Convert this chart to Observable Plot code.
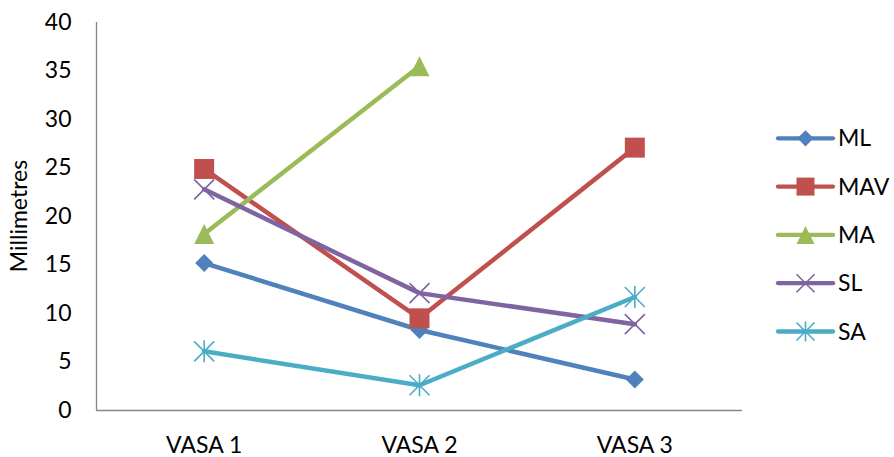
<!DOCTYPE html>
<html>
<head>
<meta charset="utf-8">
<script src="https://cdn.jsdelivr.net/npm/d3@7"></script>
<script src="https://cdn.jsdelivr.net/npm/@observablehq/plot@0.6"></script>
<style>
  html, body { margin: 0; padding: 0; background: #fff; overflow: hidden; }
  #chart svg { display: block; max-width: none !important; }
</style>
</head>
<body>
<div id="chart"></div>
<script>
// ---- data ----
const categories = ["VASA 1", "VASA 2", "VASA 3"];
const seriesNames = ["ML", "MAV", "MA", "SL", "SA"];
const ML  = [15.2, 8.3, 3.2];
const MAV = [24.9, 9.5, 27.1];
const MA  = [18.2, 35.5, null];
const SL  = [22.8, 12.1, 8.9];
const SA  = [6.1, 2.6, 11.7];
const yTicks = [0, 5, 10, 15, 20, 25, 30, 35, 40];
const yLabel = "Millimetres";

// ---- styles ----
const FONT = "Lato, 'Noto Sans', sans-serif";
const colors = ["#4F81BD", "#C0504D", "#9BBB59", "#8064A2", "#4BACC6"];
const rad = s => Math.sqrt(s / Math.PI);
const symDiamond = {draw(c, s) { const r = rad(s); c.moveTo(0, -r); c.lineTo(r, 0); c.lineTo(0, r); c.lineTo(-r, 0); c.closePath(); }};
const symSquare = {draw(c, s) { const r = rad(s); c.moveTo(-r, -r); c.lineTo(r, -r); c.lineTo(r, r); c.lineTo(-r, r); c.closePath(); }};
const symTriangle = {draw(c, s) { const r = rad(s); c.moveTo(0, -r); c.lineTo(r, r); c.lineTo(-r, r); c.closePath(); }};
const symTimes = {draw(c, s) { const r = rad(s); c.moveTo(-r, -r); c.lineTo(r, r); c.moveTo(r, -r); c.lineTo(-r, r); }};
const symStar = {draw(c, s) { const r = rad(s); c.moveTo(-r, -r); c.lineTo(r, r); c.moveTo(r, -r); c.lineTo(-r, r); c.moveTo(0, -r * 1.1); c.lineTo(0, r * 1.1); }};
const seriesStyle = [
  {sym: symDiamond, r: 9, fill: true},
  {sym: symSquare, r: 10, fill: true},
  {sym: symTriangle, r: 10, fill: true},
  {sym: symTimes, r: 10, fill: false},
  {sym: symStar, r: 10, fill: false}
];

const seriesValues = [ML, MAV, MA, SL, SA];
const series = seriesNames.map((name, k) => ({
  name,
  color: colors[k],
  style: seriesStyle[k],
  data: seriesValues[k].map((v, i) => ({i, v})).filter(d => d.v != null)
}));

const seriesMarks = series.flatMap(s => [
  Plot.line(s.data, {x: "i", y: "v", stroke: s.color, strokeWidth: 4.5, strokeLinecap: "round", strokeLinejoin: "round"}),
  Plot.dot(s.data, {
    x: "i", y: "v", symbol: s.style.sym, r: s.style.r,
    fill: s.style.fill ? s.color : "none",
    stroke: s.color, strokeWidth: s.style.fill ? 0 : 1.6
  })
]);

const plot = Plot.plot({
  width: 894,
  height: 457,
  marginLeft: 96,
  marginRight: 152,
  marginTop: 22,
  marginBottom: 47,
  style: {fontFamily: FONT, fontSize: "23px", color: "#000", background: "#fff", overflow: "visible"},
  x: {type: "linear", domain: [-0.5, categories.length - 0.5]},
  y: {domain: [0, 40]},
  marks: [
    Plot.ruleY([0], {stroke: "#868686", strokeWidth: 1.3}),
    Plot.ruleX([-0.5], {stroke: "#868686", strokeWidth: 1.3}),
    Plot.axisY({ticks: yTicks, tickSize: 0, tickPadding: 25, label: null}),
    Plot.axisX({ticks: categories.map((c, i) => i), tickFormat: i => categories[i], tickSize: 0, tickPadding: 26, label: null}),
    ...seriesMarks
  ]
});

const svg = d3.select(plot);

// ---- y axis title ----
svg.append("text")
  .attr("transform", `translate(19,${(22 + 457 - 47) / 2}) rotate(-90)`)
  .attr("text-anchor", "middle").attr("dy", "0.35em")
  .attr("font-family", FONT).attr("font-size", 23).attr("fill", "#000")
  .text(yLabel);

// ---- legend (drawn to the right of the plot area) ----
const lg = svg.append("g").attr("font-family", FONT).attr("font-size", 23).attr("text-anchor", "start");
series.forEach((s, k) => {
  const y = 138.3 + k * 48.3;
  lg.append("line").attr("x1", 778).attr("x2", 833).attr("y1", y).attr("y2", y)
    .attr("stroke", s.color).attr("stroke-width", 4.3).attr("stroke-linecap", "round");
  const p = d3.path();
  const r = s.style.r * 0.9;
  s.style.sym.draw(p, Math.PI * r * r);
  lg.append("path").attr("d", p.toString()).attr("transform", `translate(805.5,${y})`)
    .attr("fill", s.style.fill ? s.color : "none").attr("stroke", s.color)
    .attr("stroke-width", s.style.fill ? 0 : 1.6);
  lg.append("text").attr("x", 838).attr("y", y).attr("dy", "0.35em").attr("fill", "#000").text(s.name);
});

document.getElementById("chart").appendChild(plot);
</script>
</body>
</html>
